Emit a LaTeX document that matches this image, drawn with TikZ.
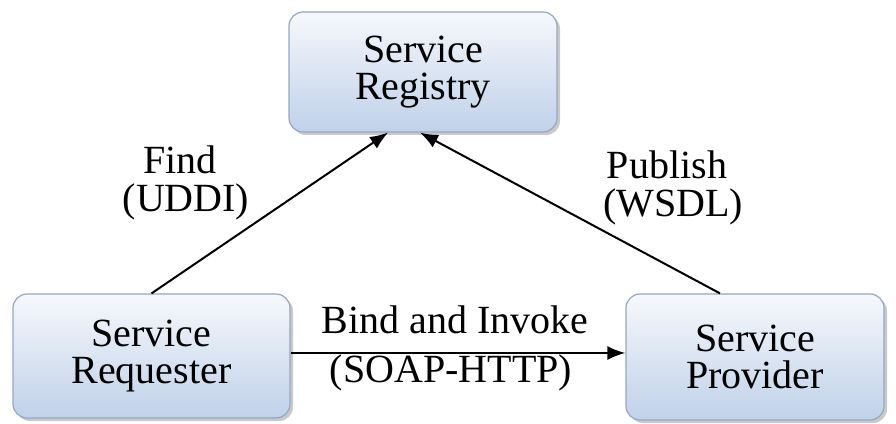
\documentclass[tikz,border=0pt]{standalone}
\usepackage{fontspec}
\setmainfont{Liberation Serif}
\usetikzlibrary{arrows.meta,shadows}
\definecolor{boxtop}{RGB}{246,248,252}
\definecolor{boxbottom}{RGB}{192,209,233}
\definecolor{boxedge}{RGB}{150,167,193}
\begin{document}
\begin{tikzpicture}[x=1pt,y=1pt,
  svcbox/.style={rectangle, rounded corners=14pt, draw=boxedge, line width=1.2pt,
    top color=boxtop, bottom color=boxbottom, align=center,
    font=\fontsize{40}{37}\selectfont,
    drop shadow={shadow xshift=3pt, shadow yshift=-3pt, opacity=0.35, fill=black!60}},
  lbl/.style={font=\fontsize{40}{37}\selectfont, anchor=base, inner sep=0pt},
  link/.style={line width=2pt, -{Latex[length=18pt,width=14pt]}}]
\useasboundingbox (0,0) rectangle (896,423);
\fill[white] (0,0) rectangle (896,423);

% the three roles of the service model
\node[svcbox, minimum width=268pt, minimum height=120pt] (reg) at (423,351) {Service\\Registry};
\node[svcbox, minimum width=277pt, minimum height=124pt] (req) at (151.5,67) {Service\\Requester};
\node[svcbox, minimum width=258pt, minimum height=126pt] (prov) at (755,66) {Service\\Provider};

% interactions between them
\draw[link] (req.north) -- ([xshift=-35pt]reg.south);
\draw[link] ([xshift=-35pt]prov.north) -- ([xshift=-3pt]reg.south);
\coordinate (bindA) at (req.east |- 0,70);
\coordinate (bindB) at (prov.west |- 0,70);
\draw[link] (bindA) -- (bindB);

% interaction labels
\node[lbl] (find) at (180,249) {Find};
\node[lbl] (uddi) at (186,211) {(UDDI)};
\node[lbl] (pub) at (667,244) {Publish};
\node[lbl] (wsdl) at (673,206) {(WSDL)};
\node[lbl] (bind) at (455,90) {Bind and Invoke};
\node[lbl] (soap) at (451,41) {(SOAP-HTTP)};
\end{tikzpicture}
\end{document}
